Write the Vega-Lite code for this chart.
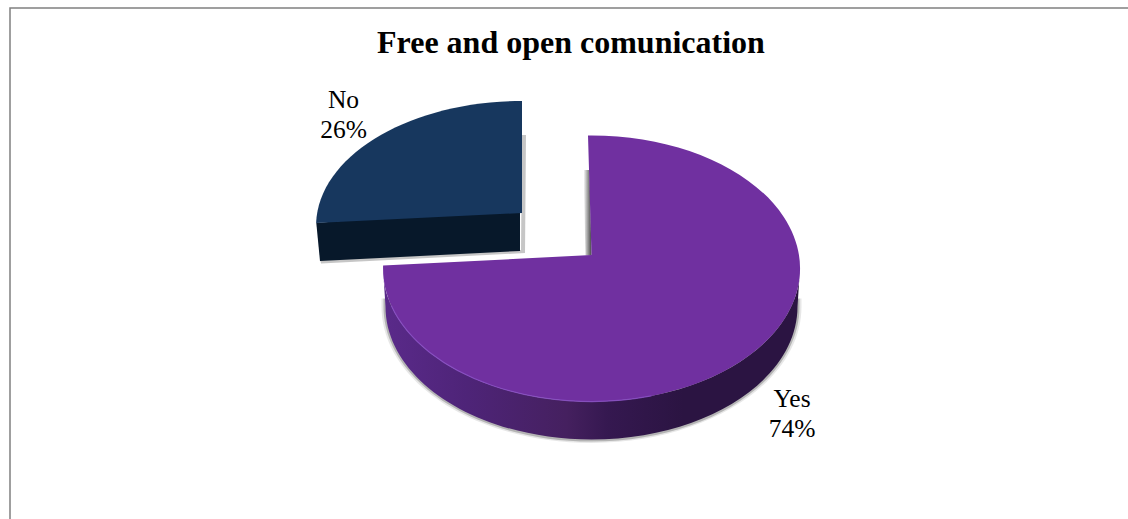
{
  "$schema": "https://vega.github.io/schema/vega-lite/v6.json",
  "width": 1123,
  "height": 516,
  "autosize": {"type": "none"},
  "padding": {"left": 10, "top": 8, "right": 0, "bottom": 0},
  "background": "white",
  "view": {"stroke": "#808080", "strokeWidth": 1.5, "fill": "white"},
  "title": {
    "text": "Free and open comunication",
    "font": "Liberation Serif",
    "fontSize": 32,
    "fontWeight": "bold",
    "color": "#000000",
    "anchor": "start",
    "frame": "group",
    "orient": "top",
    "offset": -52,
    "dx": 367
  },
  "data": {
    "values": [
      {"category": "Yes", "value": 74},
      {"category": "No", "value": 26}
    ]
  },
  "transform": [
    {"window": [{"op": "sum", "field": "value", "as": "cum"}]},
    {"calculate": "datum.category === 'Yes' ? 208.5 : 206", "as": "rx"},
    {"calculate": "datum.category === 'Yes' ? 133 : 125", "as": "ry"},
    {"calculate": "datum.category === 'Yes' ? -0.085 : -0.087", "as": "p"},
    {"calculate": "datum.category === 'Yes' ? -13.5 : -13", "as": "apexY"},
    {"calculate": "datum.category === 'Yes' ? -3.5 : 0", "as": "lean"},
    {"calculate": "2 * PI * (datum.cum - datum.value) / 100", "as": "a0"},
    {"calculate": "2 * PI * datum.cum / 100", "as": "a1"},
    {"calculate": "datum.p * cos(datum.a0) + sqrt(pow(datum.p * cos(datum.a0), 2) + 1 - datum.p * datum.p)", "as": "t0"},
    {"calculate": "datum.p * cos(datum.a1) + sqrt(pow(datum.p * cos(datum.a1), 2) + 1 - datum.p * datum.p)", "as": "t1"},
    {"calculate": "round(10 * datum.rx * datum.t0 * sin(datum.a0)) / 10 + datum.lean", "as": "x0"},
    {"calculate": "round(10 * datum.ry * (datum.p - datum.t0 * cos(datum.a0))) / 10", "as": "y0"},
    {"calculate": "round(10 * datum.rx * datum.t1 * sin(datum.a1)) / 10", "as": "x1"},
    {"calculate": "round(10 * datum.ry * (datum.p - datum.t1 * cos(datum.a1))) / 10", "as": "y1"},
    {"calculate": "'M0,' + datum.apexY + 'L' + datum.x0 + ',' + datum.y0 + 'A' + datum.rx + ',' + datum.ry + ' 0 ' + (datum.value > 50 ? 1 : 0) + ' 1 ' + datum.x1 + ',' + datum.y1 + 'Z'", "as": "wedge"},
    {"calculate": "datum.category + '\\n' + datum.value + '%'", "as": "label"}
  ],
  "encoding": {
    "x": {
      "field": "category",
      "type": "nominal",
      "axis": null,
      "scale": {"type": "point", "padding": 0, "domain": ["Yes", "No"], "range": [581.5, 512]}
    },
    "y": {
      "field": "category",
      "type": "nominal",
      "axis": null,
      "scale": {"type": "point", "padding": 0, "domain": ["Yes", "No"], "range": [260.5, 218]}
    }
  },
  "layer": [
    {
      "transform": [{"filter": "datum.category === 'Yes'"}],
      "mark": {"type": "point", "filled": true, "size": 4, "opacity": 0.14, "fill": "#555555",
        "shape": "M-210,30 L-210,38 A210,136.5 0 0 0 210,38 L210,30 Z"}
    },
    {
      "transform": [{"filter": "datum.category === 'Yes'"}],
      "mark": {"type": "point", "filled": true, "size": 4, "opacity": 0.35, "fill": "#555555",
        "shape": "M-208,30 L-208,38 A208,135 0 0 0 208,38 L208,30 Z"}
    },
    {
      "transform": [{"filter": "datum.category === 'No'"}],
      "mark": {"type": "point", "filled": true, "size": 4, "opacity": 0.45, "fill": "#808080",
        "shape": "M0,-91 L4,-91 L3,27 L-201,37.5 L-202,33 L-1,24 Z"}
    },
    {
      "transform": [{"filter": "datum.category === 'No'"}],
      "mark": {"type": "point", "filled": true, "size": 4, "opacity": 1, "fill": "#07182a",
        "shape": "M-205.7,-3 L-2,-20 L-2,25 L-202,35 Z"}
    },
    {
      "transform": [{"filter": "datum.category === 'Yes'"}],
      "mark": {"type": "point", "filled": true, "size": 4, "opacity": 1,
        "fill": {"x1": 1, "y1": 0, "x2": 0, "y2": 0, "gradient": "linear", "stops": [
          {"offset": 0, "color": "#2b1442"},
          {"offset": 0.28, "color": "#2b1442"},
          {"offset": 0.46, "color": "#351850"},
          {"offset": 0.56, "color": "#45205f"},
          {"offset": 0.8, "color": "#4e2478"},
          {"offset": 1, "color": "#5a2a8a"}
        ]},
        "shape": "M-208.5,0 L-206,38 A206,133 0 0 0 206,38 L208.5,0 A208.5,133 0 0 1 -208.5,0 Z"}
    },
    {
      "transform": [{"filter": "datum.category === 'Yes'"}],
      "mark": {"type": "point", "filled": true, "size": 4, "opacity": 1,
        "fill": {"x1": 0, "y1": 0, "x2": 1, "y2": 0, "gradient": "linear", "stops": [
          {"offset": 0, "color": "#ffffff"},
          {"offset": 1, "color": "#444444"}
        ]},
        "shape": "M-8,-98.5 L-2,-98.5 L0,-13 L-6,-13 Z"}
    },
    {
      "mark": {"type": "point", "filled": true, "size": 4, "opacity": 1},
      "encoding": {
        "shape": {"field": "wedge", "type": "nominal", "scale": null},
        "fill": {
          "field": "category",
          "type": "nominal",
          "legend": null,
          "scale": {"domain": ["Yes", "No"], "range": ["#7030a0", "#17375e"]}
        }
      }
    },
    {
      "transform": [{"filter": "datum.category === 'Yes'"}],
      "mark": {"type": "point", "filled": false, "fill": null, "size": 4, "opacity": 0.8, "stroke": "#8a4fc7", "strokeWidth": 1.2,
        "shape": "M-200,37.6 A208.5,133 0 0 0 60,127.4"}
    },
    {
      "transform": [{"filter": "datum.category === 'Yes'"}],
      "mark": {"type": "text", "font": "Liberation Serif", "fontSize": 25.5, "color": "#000000", "align": "center", "baseline": "alphabetic", "lineBreak": "\n", "lineHeight": 30, "dx": 200.5, "dy": 138},
      "encoding": {"text": {"field": "label"}}
    },
    {
      "transform": [{"filter": "datum.category === 'No'"}],
      "mark": {"type": "text", "font": "Liberation Serif", "fontSize": 25.5, "color": "#000000", "align": "center", "baseline": "alphabetic", "lineBreak": "\n", "lineHeight": 30, "dx": -178.5, "dy": -118},
      "encoding": {"text": {"field": "label"}}
    }
  ]
}
